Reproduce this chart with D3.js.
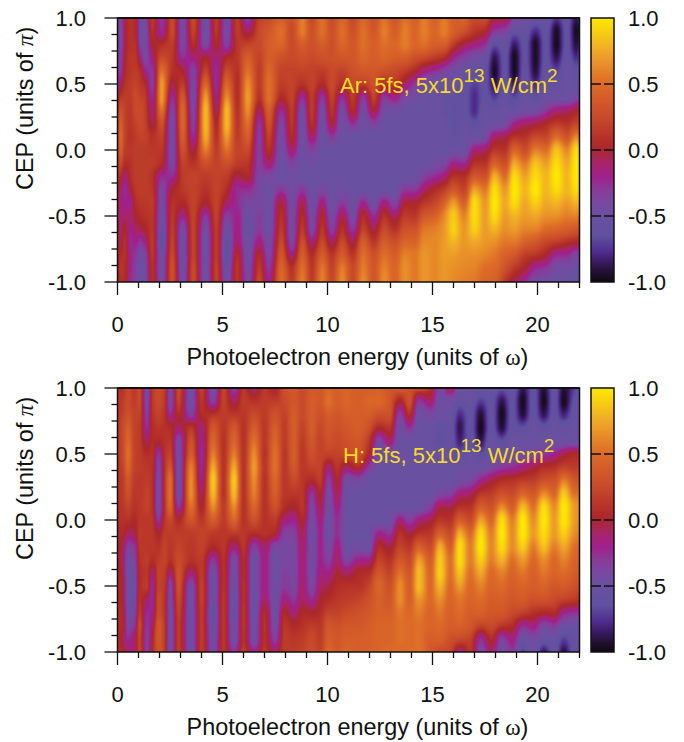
<!DOCTYPE html>
<html><head><meta charset="utf-8">
<script src="https://cdn.jsdelivr.net/npm/d3@7"></script>
<style>html,body{margin:0;padding:0;background:#fff}svg{display:block}text{font-family:"Liberation Sans",Arial,sans-serif;fill:#111}</style>
</head><body><svg id="c" width="684" height="742"></svg>
<script>
const cepRows=[1,.9,.8,.7,.6,.5,.4,.3,.2,.1,0,-.1,-.2,-.3,-.4,-.5,-.6,-.7,-.8,-.9,-1];
const energyTicks=[0,5,10,15,20];
const cepTicks=[1,.5,0,-.5,-1];
const cepTickLabels=["1.0","0.5","0.0","-0.5","-1.0"];
const colorStops=[-1,-.93,-.85,-.77,-.65,-.5,-.4,-.3,-.2,-.1,0,.05,.25,.5,.75,.9,1];
const colorValues=["#100810","#201030","#3a1a60","#4f2c90","#5f50a0","#6a50a0","#7848a0","#8a3a98","#a0208c","#a82468","#a82830","#b02a28","#c84a2a","#dd6a28","#f0a828","#f8d010","#ffe800"];
const energiesAr=[0,.15,.35,.6,.85,1.1,1.3,1.65,2.1,2.6,3.1,3.6,4.2,4.7,5.2,5.7,6.2,6.75,7.2,7.8,8.3,8.8,9.25,9.75,10.2,10.7,11.2,11.7,12.2,12.7,13.2,13.7,14.15,14.6,15.1,15.55,16,16.5,17,17.5,17.95,18.45,18.9,19.4,19.9,20.4,20.9,21.4,21.85,22];
const valuesAr=[
[-35,-35,-35,-35,-30,-25,-5,10,16,20,20,16,13,7,4,4,4,0,-5,-5,-10],
[-40,-40,-40,-35,-30,-10,13,30,40,46,40,25,7,-10,-15,-15,-10,-5,7,13,7],
[-5,-5,-5,0,4,10,16,20,20,20,16,7,-15,-25,-20,-10,4,10,10,7,7],
[10,10,10,13,13,16,16,13,13,10,13,10,7,-5,-20,-10,-20,-25,-20,-20,-25],
[7,4,10,13,16,20,25,25,20,16,16,16,16,13,7,0,-10,-20,-30,-35,-35],
[-45,-45,-40,-20,7,13,20,25,25,20,16,16,16,16,13,7,-5,-30,-45,-50,-45],
[-45,-50,-45,-40,-20,7,16,20,20,20,16,16,16,16,13,10,0,-20,-40,-45,-45],
[16,10,0,-15,-30,-35,-25,-15,-5,10,13,16,10,13,16,13,13,16,13,10,10],
[-30,-25,7,25,52,70,70,52,30,20,13,7,-25,-40,-45,-50,-55,-60,-50,-50,-45],
[25,25,16,13,10,-5,-25,-40,-45,-45,-45,-40,-25,0,10,13,16,20,25,30,30],
[-45,-45,-40,-25,0,16,35,46,46,40,30,20,16,13,4,-20,-45,-50,-50,-50,-45],
[25,20,7,-15,-35,-40,-45,-40,-35,-25,-5,10,20,20,20,20,20,20,20,25,25],
[-50,-50,-40,0,20,46,70,82,82,76,58,30,16,10,0,-30,-45,-50,-50,-50,-50],
[16,13,4,-15,-25,-25,-20,-10,4,10,16,20,20,20,20,20,16,16,16,20,20],
[-45,-45,-35,4,25,46,64,82,82,70,52,30,16,7,-10,-35,-50,-60,-65,-55,-45],
[16,16,13,13,10,7,7,10,13,16,20,16,-5,-25,-25,-20,-15,-10,7,13,13],
[-35,-10,20,40,52,64,70,64,52,40,25,13,4,-25,-40,-50,-55,-50,-50,-45,-40],
[20,25,25,20,16,16,10,-10,-30,-35,-35,-35,-40,-40,-40,-35,-30,-15,7,16,25],
[25,35,40,40,46,52,52,40,30,20,10,-10,-40,-50,-50,-50,-50,-45,-40,-30,-20],
[40,52,46,30,20,16,4,-25,-40,-45,-50,-50,-50,-30,0,10,16,25,35,45,50],
[30,25,25,25,20,20,20,16,13,7,-10,-35,-45,-45,-45,-45,-45,-40,-15,10,16],
[58,58,40,30,20,10,-25,-45,-50,-50,-50,-50,-50,-30,-5,7,16,30,40,52,58],
[25,30,30,25,20,20,16,16,10,-10,-35,-45,-50,-50,-50,-45,-40,-15,7,13,16],
[52,52,40,30,16,4,-30,-45,-50,-50,-50,-50,-50,-40,-15,4,13,25,40,55,60],
[25,30,30,30,25,25,20,13,0,-30,-50,-50,-50,-50,-50,-45,-35,-10,13,20,25],
[46,52,46,35,20,7,-25,-45,-50,-50,-50,-50,-50,-45,-30,-5,10,25,40,58,64],
[25,30,35,35,30,25,16,7,-25,-50,-50,-50,-50,-50,-50,-45,-30,-5,13,25,25],
[46,52,52,46,35,16,-30,-45,-50,-50,-50,-50,-50,-50,-20,7,20,40,52,58,64],
[30,35,40,40,35,30,20,0,-35,-50,-50,-50,-50,-50,-50,-25,-5,13,30,35,35],
[52,58,52,46,30,7,-30,-45,-50,-50,-50,-50,-50,-50,-15,10,25,40,52,60,65],
[35,40,46,40,25,13,-15,-45,-50,-50,-50,-50,-50,-50,-40,-10,10,28,40,45,45],
[52,58,58,40,16,-10,-40,-50,-50,-50,-50,-50,-50,-30,0,16,30,46,60,65,65],
[40,46,46,30,4,-30,-45,-50,-50,-50,-50,-50,-50,-30,0,13,30,45,55,55,55],
[58,58,52,25,-15,-45,-50,-50,-50,-50,-50,-50,-35,-10,13,35,55,62,68,68,68],
[40,46,40,16,-25,-50,-50,-50,-50,-50,-50,-45,-25,5,22,42,58,62,62,62,62],
[58,58,40,7,-35,-50,-55,-55,-50,-50,-50,-40,-15,16,42,62,68,70,70,68,68],
[40,40,16,-20,-45,-50,-58,-62,-62,-56,-50,-20,10,35,70,88,90,80,70,65,62],
[46,30,-5,-35,-50,-55,-58,-58,-52,-50,-50,-25,7,20,42,60,68,68,65,62,58],
[25,13,-15,-45,-55,-70,-78,-78,-62,-50,-15,10,35,72,95,95,90,75,65,60,55],
[30,4,-25,-50,-58,-60,-58,-52,-50,-45,-10,10,30,55,68,70,70,68,60,50,45],
[0,-30,-65,-88,-95,-88,-72,-56,-50,-10,13,42,78,95,100,95,80,65,55,48,42],
[4,-35,-52,-60,-60,-58,-55,-50,-45,-5,10,28,50,68,75,70,65,55,42,30,13],
[-35,-60,-85,-97,-97,-85,-68,-55,-20,10,45,75,95,100,95,80,70,55,35,13,-8],
[-40,-55,-60,-60,-58,-55,-50,-45,-10,10,28,55,72,80,75,70,60,42,16,0,-25],
[-48,-78,-95,-95,-92,-78,-62,-45,-5,25,58,85,95,100,90,75,60,35,10,-25,-45],
[-48,-58,-60,-60,-55,-50,-50,-30,4,22,50,70,80,80,75,65,48,22,0,-30,-45],
[-75,-95,-97,-88,-70,-60,-50,-15,16,50,85,95,100,95,80,65,45,16,-25,-45,-50],
[-58,-60,-60,-55,-50,-50,-50,-10,10,32,62,75,80,80,70,58,40,8,-25,-45,-50],
[-88,-97,-92,-78,-60,-55,-40,0,22,62,95,100,100,95,80,60,35,2,-40,-50,-55],
[-78,-88,-82,-70,-60,-55,-35,4,22,56,85,95,95,90,75,55,30,2,-40,-50,-55]
];
const energiesH=[0,.25,.5,.8,1.05,1.4,1.65,1.95,2.25,2.5,2.9,3.5,4,4.55,5.05,5.55,6,6.5,7,7.5,7.95,8.4,8.8,9.25,9.65,10.05,10.45,10.9,11.45,11.95,12.45,12.95,13.45,13.9,14.35,14.9,15.35,15.85,16.3,16.8,17.3,17.8,18.3,18.8,19.3,19.8,20.3,20.8,21.25,21.75,22];
const valuesH=[
[10,10,10,13,13,13,13,10,10,10,10,4,4,7,7,7,7,10,10,10,10],
[10,16,20,25,25,25,20,16,16,13,10,4,-5,-10,-5,0,0,4,4,-5,4],
[25,25,30,40,46,52,46,35,30,20,10,-10,-35,-45,-50,-50,-50,-45,-40,-25,-10],
[13,16,20,20,20,20,20,16,13,10,4,-5,-30,-40,-45,-50,-45,-40,-30,-10,-15],
[25,25,20,16,16,16,16,13,13,13,13,16,13,10,7,7,10,16,25,20,20],
[-50,-45,-35,-25,-10,7,13,16,20,20,13,13,13,16,13,16,-10,-25,-30,-35,-35],
[13,13,10,7,7,10,10,10,10,10,13,13,13,7,-15,-25,-25,-20,-10,0,4],
[25,25,20,13,4,-30,-40,-45,-45,-45,-30,0,10,16,20,20,25,25,35,35,30],
[16,13,10,10,10,10,10,13,13,10,13,16,20,20,16,13,10,10,13,13,13],
[-45,-45,-25,7,13,20,35,52,52,46,25,16,13,10,-15,-40,-45,-50,-50,-50,-50],
[25,20,7,-10,-40,-45,-50,-50,-50,-30,4,16,20,25,30,30,25,20,16,16,16],
[-50,-50,-35,13,30,40,58,64,64,52,35,16,13,10,-15,-45,-50,-50,-50,-50,-50],
[20,13,7,-15,-20,-25,-25,-20,-10,0,13,20,20,16,16,20,20,16,16,16,16],
[-50,-35,10,35,46,58,76,88,82,64,40,16,4,-30,-50,-55,-55,-60,-55,-50,-45],
[20,20,16,13,10,10,10,10,10,16,16,13,13,10,10,10,13,13,13,13,13],
[-35,-10,13,35,46,58,76,88,82,64,46,16,-15,-45,-50,-55,-60,-60,-55,-50,-30],
[13,16,13,10,10,10,10,10,10,10,10,13,13,7,7,10,10,13,13,10,16],
[-15,10,25,40,52,64,70,64,58,46,30,7,-35,-50,-50,-50,-55,-55,-50,-50,-15],
[13,16,16,13,13,10,13,10,10,10,10,10,-10,-15,-15,-15,-10,7,10,10,13],
[0,16,30,40,46,52,52,46,40,30,16,4,-40,-50,-50,-50,-50,-50,-45,-35,-5],
[30,25,20,16,16,13,13,13,13,7,-15,-35,-40,-40,-35,-30,-15,4,13,16,16],
[35,35,40,40,40,40,35,25,13,0,-20,-35,-40,-40,-40,-40,-30,-15,4,13,16],
[25,25,25,20,16,13,13,13,13,13,4,-5,-10,-12,-12,-10,-8,4,10,16,20],
[35,40,40,40,35,30,20,4,-30,-40,-45,-50,-45,-45,-45,-40,-25,0,16,25,25],
[35,35,30,25,20,20,20,16,4,-5,-15,-20,-20,-20,-15,-10,0,7,13,16,20],
[46,52,40,35,30,20,-15,-35,-45,-50,-50,-50,-45,-35,-20,-5,7,20,35,40,46],
[40,40,35,30,25,20,13,4,-5,-15,-25,-25,-15,-10,0,7,13,20,30,35,35],
[46,46,40,35,30,25,-10,-45,-50,-50,-50,-50,-50,-40,-10,10,16,25,35,40,46],
[40,40,40,40,35,30,7,-40,-50,-50,-50,-50,-45,-20,4,10,20,30,35,40,40],
[40,46,40,30,16,4,-30,-50,-50,-50,-50,-50,-50,-20,7,20,30,35,40,42,42],
[42,46,30,4,-40,-50,-50,-50,-50,-50,-50,-20,7,20,35,46,42,42,45,45,45],
[35,35,30,13,-10,-45,-50,-50,-50,-50,-50,-30,-5,10,20,30,35,40,45,45,50],
[40,0,-35,-50,-50,-50,-50,-50,-50,-50,-15,10,20,35,52,64,64,55,52,52,48],
[30,30,10,-25,-50,-50,-50,-50,-50,-50,-35,-5,13,25,35,40,42,48,50,50,50],
[30,-30,-50,-50,-50,-50,-50,-50,-50,-50,-15,10,40,70,82,82,68,58,52,52,52],
[10,-10,-40,-50,-50,-50,-50,-50,-50,-35,-5,13,25,40,46,48,48,45,45,40,35],
[-40,-50,-50,-60,-65,-50,-50,-50,-40,-5,13,40,76,88,90,80,65,55,48,42,25],
[0,-45,-50,-55,-55,-50,-50,-50,-35,-5,10,25,40,52,52,48,45,42,40,30,20],
[-50,-58,-78,-88,-82,-65,-50,-45,-15,10,40,76,95,95,85,70,55,50,42,25,-20],
[-45,-52,-58,-58,-55,-50,-50,-40,-10,10,25,48,58,58,52,48,45,40,35,20,10],
[-50,-72,-92,-97,-88,-65,-50,-20,13,40,72,95,100,90,75,60,50,42,20,-25,-45],
[-50,-58,-58,-58,-50,-50,-40,-5,16,30,46,58,62,58,48,45,40,35,25,7,-10],
[-62,-88,-97,-92,-65,-50,-30,7,30,64,95,100,95,80,60,50,42,35,13,-35,-50],
[-52,-60,-60,-58,-50,-50,-25,10,25,40,58,64,64,52,45,40,35,25,7,-15,-30],
[-88,-97,-92,-65,-50,-45,-15,16,46,82,100,100,90,70,55,45,38,20,-25,-50,-72],
[-62,-58,-58,-50,-50,-40,-5,16,35,52,64,70,58,48,42,40,30,10,-15,-40,-45],
[-92,-97,-88,-60,-50,-30,7,30,64,95,100,95,85,65,55,45,32,4,-40,-55,-88],
[-58,-58,-58,-50,-50,-20,10,30,46,64,70,70,58,48,45,35,25,7,-30,-50,-55],
[-92,-97,-82,-55,-50,-5,20,58,88,100,100,90,75,60,50,38,20,-20,-50,-70,-92],
[-72,-62,-55,-50,-50,4,16,35,52,70,70,64,52,45,40,30,16,-25,-50,-55,-55],
[-58,-55,-50,-50,-50,4,16,30,52,64,64,58,48,42,35,25,10,-25,-50,-50,-50]
];
const panels=[
 {top:18,energies:energiesAr,values:valuesAr,label:"Ar: 5fs, 5x10",lx:340,ly:93},
 {top:388,energies:energiesH,values:valuesH,label:"H: 5fs, 5x10",lx:343,ly:463}
];
const left=117.5,width=462,height=264,barX=591,barW=23,fs=22,lfs=23.4;
const color=d3.scaleLinear().domain(colorStops).range(colorValues).interpolate(d3.interpolateRgb).clamp(true);
const svg=d3.select("#c");
function mono(xs,ys){
 const n=xs.length,h=[],s=[],m=new Array(n);
 for(let i=0;i<n-1;i++){h[i]=xs[i+1]-xs[i];s[i]=(ys[i+1]-ys[i])/h[i];}
 m[0]=s[0];m[n-1]=s[n-2];
 for(let i=1;i<n-1;i++){m[i]=s[i-1]*s[i]<=0?0:2*s[i-1]*s[i]/(s[i-1]+s[i]);}
 return x=>{
  let a=0,b=n-2;
  while(a<b){const c=(a+b+1)>>1;if(xs[c]<=x)a=c;else b=c-1;}
  const t=Math.min(1,Math.max(0,(x-xs[a])/h[a])),t2=t*t,t3=t2*t;
  return (2*t3-3*t2+1)*ys[a]+(t3-2*t2+t)*h[a]*m[a]+(-2*t3+3*t2)*ys[a+1]+(t3-t2)*h[a]*m[a+1];
 };
}
function drawPanel(p){
 const x=d3.scaleLinear().domain([0,22]).range([left,left+width]);
 const y=d3.scaleLinear().domain([1,-1]).range([p.top,p.top+height]);
 if(p.values.length!==p.energies.length)throw new Error("cols "+p.values.length+" vs "+p.energies.length);
 p.values.forEach((c,i)=>{if(c.length!==cepRows.length)throw new Error("col "+i+" len "+c.length)});
 const cv=document.createElement("canvas");cv.width=width;cv.height=height;
 const ctx=cv.getContext("2d"),img=ctx.createImageData(width,height);
 const rowFns=cepRows.map((_,r)=>mono(p.energies,p.values.map(c=>c[r]/100)));
 const asc=cepRows.map(v=>-v);
 for(let i=0;i<width;i++){
  const e=x.invert(left+i+.5),col=mono(asc,rowFns.map(f=>f(e)));
  for(let j=0;j<height;j++){
   const c=d3.rgb(color(col(-y.invert(p.top+j+.5)))),k=(j*width+i)*4;
   img.data[k]=c.r;img.data[k+1]=c.g;img.data[k+2]=c.b;img.data[k+3]=255;
  }
 }
 ctx.putImageData(img,0,0);
 svg.append("image").attr("x",left).attr("y",p.top).attr("width",width).attr("height",height).attr("href",cv.toDataURL());
 const g=svg.append("g");
 g.append("rect").attr("x",left).attr("y",p.top).attr("width",width).attr("height",height).attr("fill","none").attr("stroke","#111").attr("stroke-width",1.5);
 g.append("line").attr("x1",left).attr("x2",left+width).attr("y1",p.top).attr("y2",p.top).attr("stroke","#111").attr("stroke-width",2);
 g.selectAll(".xm").data(d3.range(0,23)).join("line").attr("x1",d=>x(d)).attr("x2",d=>x(d)).attr("y1",p.top+height).attr("y2",d=>p.top+height+(d%5===0?13:6)).attr("stroke","#111").attr("stroke-width",1.3);
 g.selectAll(".ym").data(d3.range(-8,9)).join("line").attr("y1",d=>y(d/8)).attr("y2",d=>y(d/8)).attr("x2",left).attr("x1",d=>left-(d%4===0?13:6)).attr("stroke","#111").attr("stroke-width",1.3);
 g.selectAll(".xl").data(energyTicks).join("text").attr("x",d=>x(d)).attr("y",p.top+314).attr("text-anchor","middle").attr("font-size",fs).text(d=>d);
 g.selectAll(".yl").data(cepTicks).join("text").attr("x",86).attr("y",d=>y(d)+8).attr("text-anchor","end").attr("font-size",fs).text((d,i)=>cepTickLabels[i]);
 const xt=g.append("text").attr("x",357.5).attr("y",p.top+347).attr("text-anchor","middle").attr("font-size",lfs);
 xt.append("tspan").text("Photoelectron energy (units of ");
 xt.append("tspan").attr("font-family","'Liberation Serif',serif").text("ω");
 xt.append("tspan").text(")");
 const yt=g.append("text").attr("transform",`translate(33,${p.top+172}) rotate(-90)`).attr("font-size",lfs);
 yt.append("tspan").text("CEP (units of  ");
 yt.append("tspan").attr("font-style","italic").attr("font-family","'Liberation Serif',serif").text("π");
 yt.append("tspan").text(")");
 const lb=g.append("text").attr("x",p.lx).attr("y",p.ly).attr("font-size",fs).style("fill","#f2dd2a");
 lb.append("tspan").text(p.label);
 lb.append("tspan").attr("dy",-11).attr("font-size",19).text("13");
 lb.append("tspan").attr("dy",11).text(" W/cm");
 lb.append("tspan").attr("dy",-11).attr("font-size",19).text("2");
 const cb=document.createElement("canvas");cb.width=1;cb.height=height;
 const bc=cb.getContext("2d");
 for(let j=0;j<height;j++){bc.fillStyle=color(y.invert(p.top+j+.5));bc.fillRect(0,j,1,1);}
 svg.append("image").attr("x",barX).attr("y",p.top).attr("width",barW).attr("height",height).attr("preserveAspectRatio","none").attr("href",cb.toDataURL());
 const b=svg.append("g");
 b.append("rect").attr("x",barX).attr("y",p.top).attr("width",barW).attr("height",height).attr("fill","none").attr("stroke","#111").attr("stroke-width",1.5);
 [-.5,0,.5].forEach(v=>{[[barX,barX+10],[barX+barW-10,barX+barW]].forEach(([a,c])=>{
  b.append("line").attr("x1",a).attr("x2",c).attr("y1",y(v)).attr("y2",y(v)).attr("stroke","#111").attr("stroke-width",1.5);});});
 b.selectAll("text").data(cepTicks).join("text").attr("x",628).attr("y",d=>y(d)+8).attr("font-size",fs).text((d,i)=>cepTickLabels[i]);
}
panels.forEach(drawPanel);
</script></body></html>
